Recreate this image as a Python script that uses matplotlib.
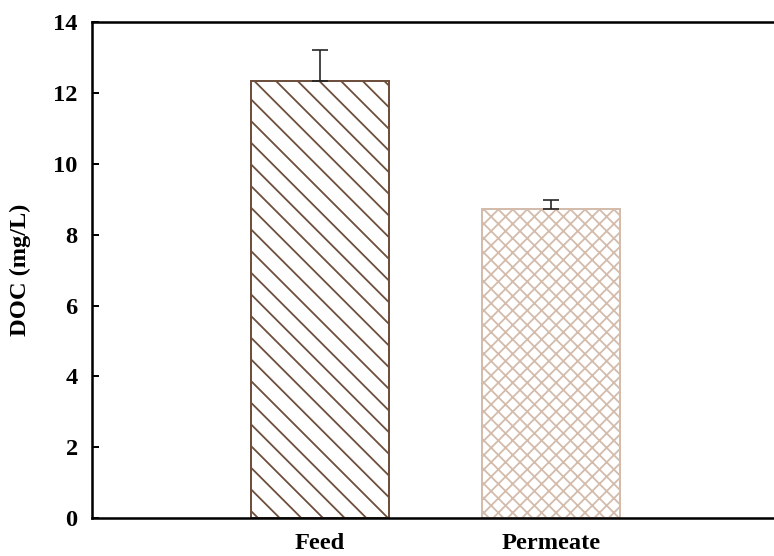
import matplotlib
matplotlib.use('Agg')
import matplotlib.pyplot as plt
import numpy as np

plt.rcParams['font.family'] = 'Liberation Serif'
plt.rcParams['font.weight'] = 'bold'
plt.rcParams['hatch.linewidth'] = 1.0

samples = ['Feed', 'Permeate']
doc_mean = [12.33, 8.72]
doc_err = [0.88, 0.26]
bar_colors = ['#6e4e3c', '#d4bcac']
hatches = ['\\\\', 'xxx']

fig = plt.figure(figsize=(774 / 130, 556 / 130), dpi=130)
ax = fig.add_axes([0.119, 0.068, 0.891, 0.892])

x = np.arange(len(samples))
for i in range(len(samples)):
    ax.bar(x[i], doc_mean[i], width=0.6, color='white', edgecolor=bar_colors[i],
           hatch=hatches[i], linewidth=1.1, zorder=2)
ax.errorbar(x, doc_mean, yerr=[[0, 0], doc_err], fmt='none', ecolor='#222222',
            elinewidth=0.9, capsize=4.4, capthick=0.9, zorder=3)

ax.set_xlim(-0.987, 2)
ax.set_ylim(0, 14)
ax.set_yticks(np.arange(0, 15, 2))
ax.set_xticks(x)
ax.set_xticklabels(samples)

ax.spines['right'].set_visible(False)
for s in ['left', 'bottom', 'top']:
    ax.spines[s].set_linewidth(1.4)

ax.tick_params(axis='y', direction='in', length=3.8, width=1.1, labelsize=13.5, pad=8)
ax.tick_params(axis='x', length=0, labelsize=13.5, pad=8)

ax.set_ylabel('DOC (mg/L)', fontsize=13.5, fontweight='bold', labelpad=12)

fig.savefig('out.png', dpi=130)
